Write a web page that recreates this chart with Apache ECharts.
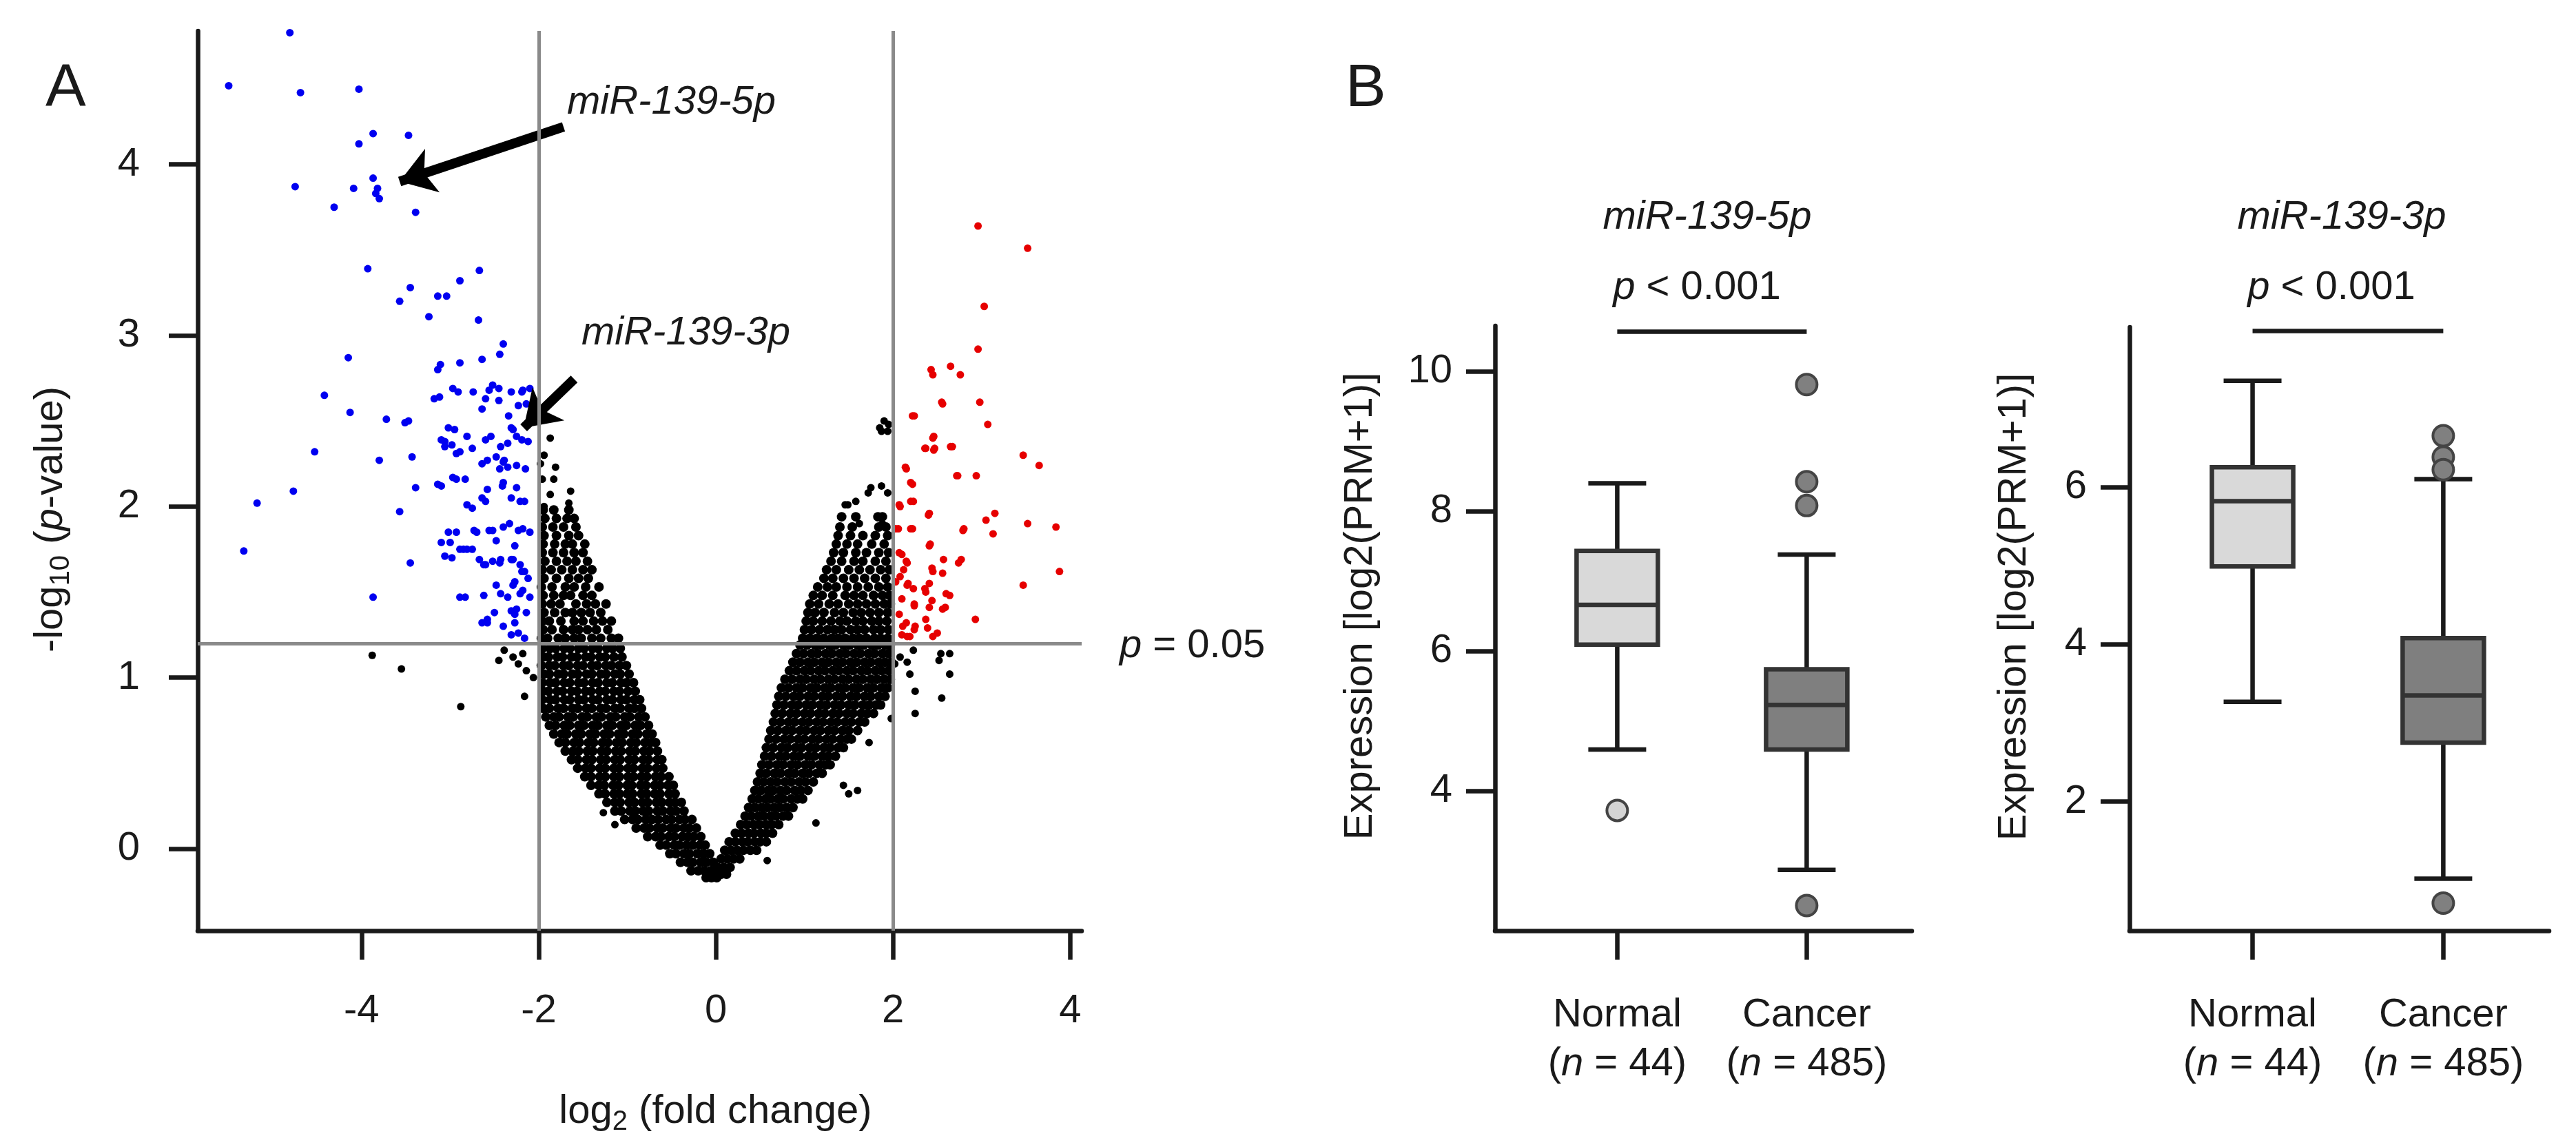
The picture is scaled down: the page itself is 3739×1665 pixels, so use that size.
<!DOCTYPE html>
<html lang="en">
<head>
  <meta charset="UTF-8">
  <title>miR-139 volcano plot and expression box plots</title>
  <script src="https://cdn.jsdelivr.net/npm/echarts@6.0.0/dist/echarts.min.js"></script>
  <style>
    html, body { margin: 0; padding: 0; background: #fff; }
    #chart { width: 3739px; height: 1665px; }
  </style>
</head>
<body>
  <div id="chart"></div>
  <script>
    var FONT = '"Liberation Sans", Arial, sans-serif';
    var INK = '#1a1a1a';
    var LW = 6.5; // axis and box line width

    // ---- A: volcano plot ----
    var xTicks = [-4, -2, 0, 2, 4];
    var yTicks = [0, 1, 2, 3, 4];
    var fcCutoff = [-2, 2];
    var pCutoff = 1.2; // height of the p = 0.05 line as drawn

    // down-regulated, significant (blue)
    var downSig = [
      [-4.81,4.77],[-5.50,4.46],[-4.69,4.42],[-4.03,4.44],[-3.87,4.18],[-3.47,4.17],[-4.03,4.12],
      [-4.75,3.87],[-4.09,3.86],[-3.87,3.92],[-3.84,3.83],[-3.80,3.80],[-3.82,3.86],[-4.31,3.75],
      [-3.39,3.72],[-3.93,3.39],[-3.45,3.28],[-3.57,3.20],[-3.14,3.23],[-3.04,3.23],[-2.89,3.32],
      [-2.67,3.38],[-3.24,3.11],[-2.68,3.09],[-2.40,2.95],[-4.15,2.87],[-3.11,2.83],[-3.14,2.80],
      [-2.89,2.84],[-2.64,2.86],[-2.44,2.89],[-4.42,2.65],[-4.13,2.55],[-3.72,2.51],[-3.51,2.49],
      [-3.47,2.50],[-3.18,2.63],[-2.97,2.69],[-2.74,2.67],[-2.60,2.63],[-2.52,2.71],[-2.31,2.67],
      [-2.19,2.67],[-2.23,2.59],[-4.53,2.32],[-3.80,2.27],[-3.43,2.29],[-3.10,2.39],[-3.02,2.46],
      [-3.06,2.35],[-2.81,2.41],[-2.93,2.31],[-2.60,2.39],[-2.48,2.29],[-2.40,2.26],[-2.44,2.22],
      [-2.31,2.46],[-2.35,2.37],[-2.19,2.39],[-2.15,2.22],[-4.77,2.09],[-5.18,2.02],[-5.33,1.74],
      [-3.57,1.97],[-3.39,2.11],[-3.14,2.13],[-2.93,2.16],[-2.81,2.01],[-2.64,2.05],[-2.40,2.14],
      [-2.31,2.05],[-2.21,2.03],[-3.02,1.85],[-3.10,1.79],[-2.89,1.75],[-2.81,1.75],[-3.06,1.71],
      [-2.73,1.86],[-2.56,1.86],[-2.40,1.88],[-2.23,1.86],[-3.45,1.67],[-2.67,1.69],[-2.60,1.66],
      [-2.44,1.67],[-2.31,1.69],[-2.19,1.62],[-2.27,1.56],[-2.48,1.54],[-3.87,1.47],[-2.89,1.47],
      [-2.62,1.48],[-2.35,1.47],[-2.21,1.49],[-2.31,1.39],[-2.64,1.32],[-2.58,1.34],[-2.40,1.30],
      [-2.23,1.26],[-2.27,1.37],
      [-3.12,2.64],[-2.91,2.67],[-2.56,2.68],[-2.45,2.69],[-2.18,2.68],[-2.10,2.69],[-2.45,2.62],
      [-2.64,2.57],[-2.14,2.60],[-2.34,2.53],[-2.95,2.45],[-2.54,2.41],[-2.29,2.45],[-2.25,2.41],
      [-3.06,2.38],[-2.98,2.36],[-2.89,2.32],[-2.75,2.34],[-2.43,2.35],[-2.12,2.38],[-2.64,2.25],
      [-2.58,2.27],[-2.39,2.27],[-2.35,2.23],[-2.25,2.24],[-2.97,2.17],[-2.83,2.16],[-3.10,2.12],
      [-2.58,2.10],[-2.41,2.12],[-2.25,2.11],[-2.60,2.03],[-2.16,2.03],[-2.75,1.99],[-2.93,1.85],
      [-2.70,1.85],[-2.52,1.86],[-2.33,1.90],[-2.18,1.87],[-2.10,1.85],[-3.00,1.79],[-2.85,1.75],
      [-2.75,1.75],[-2.48,1.80],[-2.27,1.77],[-2.98,1.70],[-2.62,1.66],[-2.52,1.68],[-2.43,1.69],
      [-2.29,1.69],[-2.21,1.66],[-2.16,1.62],[-2.12,1.58],[-2.29,1.54],[-2.18,1.51],[-2.83,1.47],
      [-2.43,1.49],[-2.10,1.47],[-2.50,1.38],[-2.25,1.40],[-2.14,1.38],[-2.58,1.32],[-2.27,1.32],
      [-2.31,1.25],[-2.16,1.23]
    ];

    // up-regulated, significant (red)
    var upSig = [
      [2.96,3.64],[3.52,3.51],[3.03,3.17],[2.96,2.92],[2.43,2.80],[2.45,2.77],[2.65,2.82],[2.76,2.77],
      [2.55,2.61],[2.98,2.61],[2.22,2.53],[3.07,2.48],[2.45,2.40],[2.36,2.34],[2.47,2.34],[2.65,2.35],
      [3.47,2.30],[3.65,2.24],[2.14,2.23],[2.72,2.18],[2.94,2.18],[2.20,2.14],[2.07,2.01],[2.20,2.03],
      [2.41,1.96],[3.05,1.92],[3.15,1.96],[2.80,1.87],[3.13,1.84],[3.52,1.90],[3.84,1.88],[2.03,1.87],
      [2.20,1.87],[2.41,1.77],[2.07,1.73],[2.16,1.67],[2.57,1.69],[2.74,1.67],[2.45,1.62],[3.88,1.62],
      [2.03,1.56],[2.16,1.54],[2.36,1.52],[2.60,1.49],[3.47,1.54],[2.24,1.43],[2.41,1.41],[2.59,1.41],
      [2.07,1.37],[2.93,1.34],[2.11,1.30],[2.24,1.28],[2.39,1.29],[2.16,1.24],[2.45,1.24],
      [2.56,2.60],[2.24,2.53],[2.46,2.41],[2.37,2.34],[2.46,2.33],[2.67,2.35],[2.15,2.22],[2.73,2.18],
      [2.22,2.13],[2.08,2.00],[2.23,2.03],[2.40,1.95],[2.06,1.87],[2.22,1.87],[2.79,1.86],[2.42,1.78],
      [2.10,1.72],[2.15,1.68],[2.12,1.63],[2.08,1.59],[2.44,1.64],[2.56,1.61],[2.77,1.69],[2.17,1.55],
      [2.23,1.52],[2.41,1.55],[2.37,1.50],[2.64,1.48],[2.10,1.46],[2.24,1.42],[2.44,1.45],[2.56,1.40],
      [2.15,1.32],[2.25,1.30],[2.37,1.34],[2.50,1.26],[2.10,1.25],[2.19,1.24]
    ];

    // not significant (black), read row by row: [y, x, x, ...]
    var nsLeft = [
      [-0.17, -0.11, -0.05, 0.01],
      [-0.13, -0.28, -0.20, -0.13, -0.06],
      [-0.08, -0.40, -0.32, -0.26, -0.17, -0.11, -0.03],
      [-0.03, -0.52, -0.45, -0.36, -0.30, -0.21, -0.14, -0.07],
      [0.02, -0.63, -0.56, -0.47, -0.41, -0.33, -0.26, -0.18, -0.12],
      [0.07, -0.77, -0.68, -0.62, -0.53, -0.47, -0.38, -0.31, -0.25, -0.17],
      [0.12, -0.90, -0.81, -0.75, -0.66, -0.60, -0.51, -0.45, -0.36, -0.30, -0.22],
      [0.17, -1.03, -0.94, -0.88, -0.79, -0.72, -0.65, -0.56, -0.50, -0.41, -0.35, -0.27],
      [0.22, -1.14, -1.07, -0.97, -0.91, -0.82, -0.76, -0.66, -0.60, -0.51, -0.45, -0.36],
      [0.27, -1.23, -1.14, -1.08, -0.98, -0.92, -0.83, -0.77, -0.67, -0.61, -0.52, -0.46, -0.39],
      [0.32, -1.32, -1.25, -1.15, -1.09, -1.00, -0.94, -0.84, -0.78, -0.69, -0.63, -0.53, -0.46],
      [0.37, -1.41, -1.32, -1.26, -1.16, -1.10, -1.00, -0.95, -0.85, -0.79, -0.69, -0.63, -0.54, -0.48],
      [0.42, -1.48, -1.41, -1.31, -1.25, -1.15, -1.09, -0.99, -0.93, -0.84, -0.78, -0.68, -0.62, -0.53],
      [0.47, -1.56, -1.47, -1.41, -1.31, -1.25, -1.15, -1.09, -0.99, -0.93, -0.83, -0.77, -0.67, -0.60],
      [0.52, -1.63, -1.56, -1.46, -1.40, -1.30, -1.24, -1.14, -1.08, -0.98, -0.92, -0.82, -0.76, -0.66, -0.61],
      [0.57, -1.70, -1.61, -1.55, -1.45, -1.39, -1.29, -1.23, -1.13, -1.07, -0.97, -0.91, -0.81, -0.75, -0.66],
      [0.62, -1.77, -1.70, -1.60, -1.54, -1.44, -1.38, -1.28, -1.22, -1.12, -1.06, -0.96, -0.90, -0.80, -0.74, -0.68],
      [0.67, -1.83, -1.74, -1.68, -1.58, -1.52, -1.42, -1.36, -1.26, -1.20, -1.10, -1.04, -0.94, -0.88, -0.78, -0.72],
      [0.72, -1.88, -1.81, -1.71, -1.65, -1.55, -1.49, -1.39, -1.33, -1.23, -1.17, -1.07, -1.01, -0.91, -0.85, -0.76],
      [0.77, -1.92, -1.83, -1.77, -1.67, -1.61, -1.51, -1.45, -1.35, -1.29, -1.19, -1.13, -1.03, -0.97, -0.87, -0.80],
      [0.82, -1.95, -1.88, -1.78, -1.72, -1.62, -1.56, -1.46, -1.40, -1.30, -1.24, -1.14, -1.08, -0.98, -0.92, -0.84],
      [0.87, -1.96, -1.87, -1.81, -1.71, -1.65, -1.55, -1.49, -1.39, -1.33, -1.23, -1.17, -1.07, -1.01, -0.92, -0.86],
      [0.92, -1.95, -1.89, -1.79, -1.73, -1.63, -1.57, -1.47, -1.41, -1.31, -1.25, -1.15, -1.09, -0.99, -0.91],
      [0.97, -1.96, -1.87, -1.81, -1.71, -1.65, -1.55, -1.49, -1.39, -1.33, -1.23, -1.17, -1.07, -1.01, -0.93],
      [1.02, -1.94, -1.88, -1.78, -1.72, -1.62, -1.56, -1.46, -1.40, -1.30, -1.24, -1.14, -1.08, -0.98],
      [1.07, -1.97, -1.88, -1.82, -1.72, -1.66, -1.56, -1.50, -1.40, -1.34, -1.24, -1.18, -1.09, -1.01],
      [1.12, -1.95, -1.89, -1.79, -1.73, -1.63, -1.57, -1.47, -1.41, -1.31, -1.25, -1.15, -1.06],
      [1.17, -1.96, -1.87, -1.81, -1.71, -1.65, -1.55, -1.49, -1.39, -1.33, -1.23, -1.17, -1.08],
      [1.23, -1.97, -1.90, -1.78, -1.70, -1.60, -1.52, -1.40, -1.30, -1.18, -1.10],
      [1.28, -1.95, -1.85, -1.72, -1.62, -1.55, -1.45, -1.35, -1.22],
      [1.33, -1.96, -1.88, -1.75, -1.60, -1.50, -1.38, -1.28, -1.18],
      [1.38, -1.94, -1.82, -1.70, -1.62, -1.52, -1.42, -1.30],
      [1.43, -1.96, -1.86, -1.76, -1.58, -1.46, -1.36, -1.24],
      [1.48, -1.95, -1.83, -1.72, -1.64, -1.50, -1.40],
      [1.53, -1.97, -1.85, -1.70, -1.60, -1.47, -1.32],
      [1.58, -1.94, -1.80, -1.66, -1.55, -1.44],
      [1.63, -1.96, -1.86, -1.74, -1.62, -1.50, -1.40],
      [1.68, -1.93, -1.80, -1.68, -1.58, -1.45],
      [1.73, -1.96, -1.84, -1.72, -1.60, -1.50],
      [1.78, -1.95, -1.82, -1.70, -1.62, -1.48],
      [1.83, -1.94, -1.80, -1.66, -1.55],
      [1.88, -1.96, -1.84, -1.72, -1.58],
      [1.93, -1.93, -1.80, -1.68, -1.60],
      [1.98, -1.95, -1.83, -1.66]
    ];
    var nsRight = [
      [-0.15, 0.00, 0.06, 0.12],
      [-0.11, 0.02, 0.09, 0.16],
      [-0.06, 0.06, 0.13, 0.20, 0.27],
      [-0.01, 0.10, 0.17, 0.24, 0.31, 0.39, 0.46],
      [0.04, 0.15, 0.22, 0.30, 0.36, 0.44, 0.50, 0.57],
      [0.09, 0.22, 0.29, 0.37, 0.43, 0.51, 0.57, 0.64],
      [0.14, 0.28, 0.35, 0.43, 0.49, 0.57, 0.63, 0.71],
      [0.19, 0.33, 0.40, 0.48, 0.54, 0.62, 0.68, 0.76, 0.82],
      [0.24, 0.37, 0.44, 0.52, 0.58, 0.66, 0.72, 0.80, 0.87],
      [0.29, 0.41, 0.48, 0.56, 0.62, 0.70, 0.76, 0.85, 0.92, 0.98],
      [0.34, 0.44, 0.51, 0.59, 0.65, 0.73, 0.80, 0.89, 0.96, 1.04],
      [0.39, 0.47, 0.54, 0.62, 0.69, 0.78, 0.85, 0.94, 1.01, 1.10],
      [0.44, 0.50, 0.57, 0.66, 0.73, 0.82, 0.89, 0.98, 1.05, 1.14, 1.20],
      [0.49, 0.52, 0.60, 0.69, 0.76, 0.85, 0.92, 1.01, 1.08, 1.17, 1.24, 1.29],
      [0.54, 0.55, 0.63, 0.72, 0.79, 0.88, 0.95, 1.04, 1.11, 1.20, 1.27, 1.35],
      [0.59, 0.57, 0.65, 0.74, 0.81, 0.90, 0.97, 1.06, 1.13, 1.22, 1.29, 1.38, 1.44],
      [0.64, 0.60, 0.68, 0.77, 0.84, 0.93, 1.00, 1.09, 1.16, 1.25, 1.32, 1.41, 1.48, 1.53],
      [0.69, 0.62, 0.70, 0.79, 0.86, 0.95, 1.02, 1.11, 1.18, 1.27, 1.34, 1.43, 1.50, 1.60],
      [0.74, 0.65, 0.73, 0.82, 0.89, 0.98, 1.05, 1.14, 1.21, 1.30, 1.37, 1.46, 1.53, 1.62, 1.68],
      [0.79, 0.67, 0.75, 0.84, 0.91, 1.00, 1.07, 1.16, 1.23, 1.32, 1.39, 1.48, 1.55, 1.64, 1.71, 1.78],
      [0.84, 0.69, 0.77, 0.86, 0.93, 1.02, 1.09, 1.18, 1.25, 1.34, 1.41, 1.50, 1.57, 1.66, 1.73, 1.81, 1.86],
      [0.89, 0.71, 0.79, 0.88, 0.95, 1.04, 1.11, 1.20, 1.27, 1.36, 1.43, 1.52, 1.59, 1.68, 1.75, 1.84, 1.91],
      [0.94, 0.74, 0.82, 0.91, 0.98, 1.07, 1.14, 1.23, 1.30, 1.39, 1.46, 1.55, 1.62, 1.71, 1.78, 1.87, 1.94],
      [0.99, 0.78, 0.86, 0.95, 1.02, 1.11, 1.18, 1.27, 1.34, 1.43, 1.50, 1.59, 1.66, 1.75, 1.82, 1.90, 1.97],
      [1.04, 0.83, 0.91, 1.00, 1.07, 1.16, 1.23, 1.32, 1.39, 1.48, 1.55, 1.64, 1.71, 1.80, 1.87, 1.95],
      [1.09, 0.87, 0.95, 1.04, 1.11, 1.20, 1.27, 1.36, 1.43, 1.52, 1.59, 1.68, 1.75, 1.84, 1.91, 1.98],
      [1.14, 0.91, 0.99, 1.08, 1.15, 1.24, 1.31, 1.40, 1.47, 1.56, 1.63, 1.72, 1.79, 1.88, 1.95],
      [1.19, 0.95, 1.03, 1.12, 1.19, 1.28, 1.35, 1.44, 1.51, 1.60, 1.67, 1.76, 1.83, 1.91, 1.97],
      [1.23, 0.98, 1.06, 1.14, 1.22, 1.31, 1.38, 1.46, 1.55, 1.62, 1.70, 1.79, 1.86, 1.94],
      [1.28, 1.00, 1.08, 1.17, 1.26, 1.34, 1.42, 1.52, 1.60, 1.68, 1.78, 1.86, 1.95],
      [1.33, 1.02, 1.10, 1.20, 1.30, 1.40, 1.48, 1.58, 1.66, 1.76, 1.84, 1.93],
      [1.38, 1.04, 1.12, 1.22, 1.34, 1.44, 1.55, 1.64, 1.74, 1.84, 1.94],
      [1.43, 1.06, 1.16, 1.28, 1.38, 1.50, 1.60, 1.70, 1.80, 1.90, 1.97],
      [1.48, 1.10, 1.20, 1.32, 1.46, 1.56, 1.66, 1.78, 1.88, 1.96],
      [1.53, 1.15, 1.26, 1.36, 1.48, 1.60, 1.72, 1.84, 1.94],
      [1.58, 1.22, 1.32, 1.44, 1.56, 1.68, 1.80, 1.92],
      [1.63, 1.25, 1.36, 1.50, 1.62, 1.74, 1.86, 1.96],
      [1.68, 1.30, 1.42, 1.56, 1.66, 1.80, 1.92],
      [1.73, 1.33, 1.44, 1.58, 1.70, 1.84, 1.95],
      [1.78, 1.36, 1.48, 1.60, 1.76, 1.90],
      [1.83, 1.38, 1.52, 1.66, 1.80, 1.94],
      [1.88, 1.40, 1.54, 1.84, 1.92],
      [1.94, 1.42, 1.58, 1.83, 1.88]
    ];
    // isolated black points
    var nsStray = [
      [-2.45,1.10],[-2.39,1.16],[-2.29,1.12],[-2.18,1.14],[-2.23,1.08],[-2.14,1.04],[-2.06,1.00],
      [-2.16,0.89],[-2.88,0.83],[-3.88,1.13],[-3.55,1.05],
      [2.08,1.12],[2.19,1.02],[2.25,0.92],[2.25,0.79],[2.54,1.14],[2.64,1.14],[2.64,1.02],[2.55,0.88],
      [2.02,1.08],[1.98,0.76],[2.23,1.16],[2.52,1.10],[2.16,1.09],
      [1.13,0.15],[1.60,0.34],[1.73,0.62],[1.44,0.37],[1.50,0.32],[0.58,-0.07],[-1.14,0.14],[-1.27,0.21],[-1.62,0.56],
      [-1.87,2.40],[-1.81,2.23],[-1.98,2.25],[-1.96,2.16],[-1.83,2.16],[-1.87,2.07],[-1.64,2.09],
      [-1.66,2.02],[-1.94,2.30],[-1.94,2.00],
      [1.90,2.50],[1.85,2.46],[1.94,2.44],[1.75,2.11],[1.87,2.12],[1.46,2.01],[1.58,2.03],[1.62,1.90],
      [1.83,1.94],[1.88,1.90],[1.95,2.48],[1.87,2.44],[1.49,2.01],[1.72,2.08],[1.94,2.08]
    ];

    function rowsToPoints(rows) {
      var out = [];
      rows.forEach(function (r) {
        for (var i = 1; i < r.length; i++) out.push([r[i], r[0]]);
      });
      return out;
    }
    var nsCloud = rowsToPoints(nsLeft).concat(rowsToPoints(nsRight));

    // ---- B: box plots, [lower whisker, Q1, median, Q3, upper whisker] ----
    var groups = ['Normal', 'Cancer'];
    var groupN = [44, 485];
    var box5p = [[4.59, 6.09, 6.66, 7.43, 8.40], [2.87, 4.59, 5.23, 5.74, 7.38]];
    var out5p = [[0, 3.72], [1, 9.81], [1, 8.42], [1, 8.08], [1, 2.36]];
    var box3p = [[3.27, 4.99, 5.82, 6.25, 7.35], [1.02, 2.75, 3.35, 4.08, 6.10]];
    var out3p = [[1, 6.65], [1, 6.38], [1, 6.22], [1, 0.71]];
    var ticks5p = [4, 6, 8, 10];
    var ticks3p = [2, 4, 6];
    var sigBar5p = 10.57;
    var sigBar3p = 7.98;

    var boxFill = ['#d9d9d9', '#7f7f7f'];
    var outFill = ['#d4d4d4', '#808080'];

    var txt = { fontSize: 58, fontFamily: FONT, color: INK, lineHeight: 70 };
    var richMain = {
      a: txt,
      i: { fontSize: 58, fontFamily: FONT, color: INK, lineHeight: 70, fontStyle: 'italic' },
      s: { fontSize: 40, fontFamily: FONT, color: INK, lineHeight: 36, verticalAlign: 'bottom' }
    };

    function axisLineStyle() {
      return { show: true, onZero: false, lineStyle: { color: INK, width: LW } };
    }
    function axisTickStyle(vals) {
      return { show: true, inside: false, length: 42, customValues: vals, lineStyle: { color: INK, width: LW } };
    }
    function numLabel(vals, margin) {
      return { show: true, customValues: vals, margin: margin, fontSize: 58, fontFamily: FONT, color: INK };
    }

    function boxItem(params, api) {
      var x = api.value(0);
      var lo = api.coord([x, api.value(1)]);
      var q1 = api.coord([x, api.value(2)]);
      var md = api.coord([x, api.value(3)]);
      var q3 = api.coord([x, api.value(4)]);
      var hi = api.coord([x, api.value(5)]);
      var cx = lo[0], half = 59, cap = 42;
      var stroke = { stroke: INK, lineWidth: LW };
      return {
        type: 'group',
        children: [
          { type: 'line', shape: { x1: cx, y1: hi[1], x2: cx, y2: lo[1] }, style: stroke },
          { type: 'line', shape: { x1: cx - cap, y1: hi[1], x2: cx + cap, y2: hi[1] }, style: stroke },
          { type: 'line', shape: { x1: cx - cap, y1: lo[1], x2: cx + cap, y2: lo[1] }, style: stroke },
          { type: 'rect', shape: { x: cx - half, y: q3[1], width: half * 2, height: q1[1] - q3[1] },
            style: { fill: boxFill[x], stroke: '#333333', lineWidth: LW } },
          { type: 'line', shape: { x1: cx - half, y1: md[1], x2: cx + half, y2: md[1] },
            style: { stroke: '#333333', lineWidth: LW } }
        ]
      };
    }

    function catLabel() {
      return {
        show: true, customValues: [0, 1], margin: 87,
        formatter: function (v) {
          var i = Math.round(v);
          return '{a|' + groups[i] + '}\n{a|(}{i|n}{a| = ' + groupN[i] + ')}';
        },
        rich: { a: { fontSize: 58, fontFamily: FONT, color: INK, lineHeight: 71 },
                i: { fontSize: 58, fontFamily: FONT, color: INK, lineHeight: 71, fontStyle: 'italic' } }
      };
    }

    function sigLine(yv) {
      return {
        silent: true, symbol: 'none', label: { show: false },
        lineStyle: { color: INK, width: LW, type: 'solid' },
        emphasis: { disabled: true },
        data: [[{ coord: [0, yv] }, { coord: [1, yv] }]]
      };
    }

    function gText(x, y, text, opt) {
      var style = {
        text: text, x: 0, y: 0, fontSize: 58, fontFamily: FONT, fill: INK,
        align: 'left', verticalAlign: 'middle', textAlign: 'left', textVerticalAlign: 'middle'
      };
      for (var k in opt) style[k] = opt[k];
      if (style.align === 'center') style.textAlign = 'center';
      return { type: 'text', x: x, y: y, silent: true, style: style };
    }

    var chart = echarts.init(document.getElementById('chart'), null, { renderer: 'canvas' });
    chart.setOption({
      backgroundColor: '#ffffff',
      animation: false,
      grid: [
        { left: 287, top: 45, width: 1283, height: 1306, outerBoundsMode: 'none' },
        { left: 2170, top: 473, width: 605, height: 878, outerBoundsMode: 'none' },
        { left: 3091, top: 475, width: 609, height: 876, outerBoundsMode: 'none' }
      ],
      xAxis: [
        { gridIndex: 0, type: 'value', min: -5.85, max: 4.13,
          axisLine: axisLineStyle(), axisTick: axisTickStyle(xTicks), axisLabel: numLabel(xTicks, 88),
          splitLine: { show: false },
          name: '{a|log}{s|2}{a| (fold change)}', nameLocation: 'middle', nameGap: 228, nameMoveOverlap: false,
          nameTextStyle: { rich: richMain, padding: [0, 0, 0, 220] } },
        { gridIndex: 1, type: 'value', min: -0.645, max: 1.555,
          axisLine: axisLineStyle(), axisTick: axisTickStyle([0, 1]), axisLabel: catLabel(),
          splitLine: { show: false } },
        { gridIndex: 2, type: 'value', min: -0.645, max: 1.555,
          axisLine: axisLineStyle(), axisTick: axisTickStyle([0, 1]), axisLabel: catLabel(),
          splitLine: { show: false } }
      ],
      yAxis: [
        { gridIndex: 0, type: 'value', min: -0.48, max: 4.78,
          axisLine: axisLineStyle(), axisTick: axisTickStyle(yTicks), axisLabel: numLabel(yTicks, 84),
          splitLine: { show: false },
          name: '{a|-log}{s|10}{a| (}{i|p}{a|-value)}', nameLocation: 'middle', nameGap: 178, nameMoveOverlap: false,
          nameTextStyle: { rich: richMain, padding: [0, 112, 0, 0] } },
        { gridIndex: 1, type: 'value', min: 2, max: 10.65,
          axisLine: axisLineStyle(), axisTick: axisTickStyle(ticks5p), axisLabel: numLabel(ticks5p, 62),
          splitLine: { show: false },
          name: 'Expression [log2(PRM+1)]', nameLocation: 'middle', nameGap: 160, nameMoveOverlap: false,
          nameTextStyle: { fontSize: 58, fontFamily: FONT, color: INK, lineHeight: 70, padding: [0, 0, 0, 64] } },
        { gridIndex: 2, type: 'value', min: 0.36, max: 8.03,
          axisLine: axisLineStyle(), axisTick: axisTickStyle(ticks3p), axisLabel: numLabel(ticks3p, 62),
          splitLine: { show: false },
          name: 'Expression [log2(PRM+1)]', nameLocation: 'middle', nameGap: 132, nameMoveOverlap: false,
          nameTextStyle: { fontSize: 58, fontFamily: FONT, color: INK, lineHeight: 70, padding: [0, 0, 0, 64] } }
      ],
      series: [
        // dense black cloud: markers overlap into a solid band as in the source
        { name: 'not significant', type: 'scatter', xAxisIndex: 0, yAxisIndex: 0, z: 2,
          data: nsCloud, symbolSize: 14, itemStyle: { color: '#000000', opacity: 1 },
          emphasis: { disabled: true }, silent: true },
        { name: 'not significant (isolated)', type: 'scatter', xAxisIndex: 0, yAxisIndex: 0, z: 2,
          data: nsStray, symbolSize: 11, itemStyle: { color: '#000000', opacity: 1 },
          emphasis: { disabled: true }, silent: true },
        { name: 'down', type: 'scatter', xAxisIndex: 0, yAxisIndex: 0, z: 3,
          data: downSig, symbolSize: 11, itemStyle: { color: '#0000f0', opacity: 1 },
          emphasis: { disabled: true }, silent: true,
          markLine: {
            silent: true, symbol: ['none', 'arrow'], symbolSize: 50, label: { show: false },
            lineStyle: { color: '#000000', width: 14, type: 'solid' }, emphasis: { disabled: true },
            data: [
              [{ coord: [-1.72, 4.22] }, { coord: [-3.57, 3.90] }],
              [{ coord: [-1.60, 2.745] }, { coord: [-2.17, 2.46] }]
            ]
          } },
        { name: 'up', type: 'scatter', xAxisIndex: 0, yAxisIndex: 0, z: 3,
          data: upSig, symbolSize: 11, itemStyle: { color: '#e60000', opacity: 1 },
          emphasis: { disabled: true }, silent: true,
          markLine: {
            silent: true, symbol: 'none', label: { show: false },
            lineStyle: { color: '#8a8a8a', width: 5, type: 'solid' }, emphasis: { disabled: true },
            data: [{ xAxis: fcCutoff[0] }, { xAxis: fcCutoff[1] }, { yAxis: pCutoff }]
          } },
        { type: 'custom', xAxisIndex: 1, yAxisIndex: 1, renderItem: boxItem, silent: true,
          encode: { x: 0, y: [1, 2, 3, 4, 5] },
          data: box5p.map(function (b, i) { return [i].concat(b); }) },
        { type: 'scatter', xAxisIndex: 1, yAxisIndex: 1, data: out5p, symbolSize: 30, silent: true, z: 3,
          itemStyle: { color: function (p) { return outFill[p.data[0]]; }, borderColor: '#444444', borderWidth: 4, opacity: 1 },
          emphasis: { disabled: true }, markLine: sigLine(sigBar5p) },
        { type: 'custom', xAxisIndex: 2, yAxisIndex: 2, renderItem: boxItem, silent: true,
          encode: { x: 0, y: [1, 2, 3, 4, 5] },
          data: box3p.map(function (b, i) { return [i].concat(b); }) },
        { type: 'scatter', xAxisIndex: 2, yAxisIndex: 2, data: out3p, symbolSize: 30, silent: true, z: 3,
          itemStyle: { color: function (p) { return outFill[p.data[0]]; }, borderColor: '#444444', borderWidth: 4, opacity: 1 },
          emphasis: { disabled: true }, markLine: sigLine(sigBar3p) }
      ],
      graphic: [
        gText(66, 130, 'A', { fontSize: 88 }),
        gText(1953, 130, 'B', { fontSize: 88 }),
        gText(1625, 938, '{i|p}{a| = 0.05}', { rich: richMain }),
        gText(823, 149, 'miR-139-5p', { fontStyle: 'italic' }),
        gText(844, 484, 'miR-139-3p', { fontStyle: 'italic' }),
        gText(2478, 316, 'miR-139-5p', { fontStyle: 'italic', align: 'center' }),
        gText(2463, 418, '{i|p}{a| < 0.001}', { rich: richMain, align: 'center' }),
        gText(3399, 316, 'miR-139-3p', { fontStyle: 'italic', align: 'center' }),
        gText(3384, 418, '{i|p}{a| < 0.001}', { rich: richMain, align: 'center' })
      ]
    });
  </script>
</body>
</html>
